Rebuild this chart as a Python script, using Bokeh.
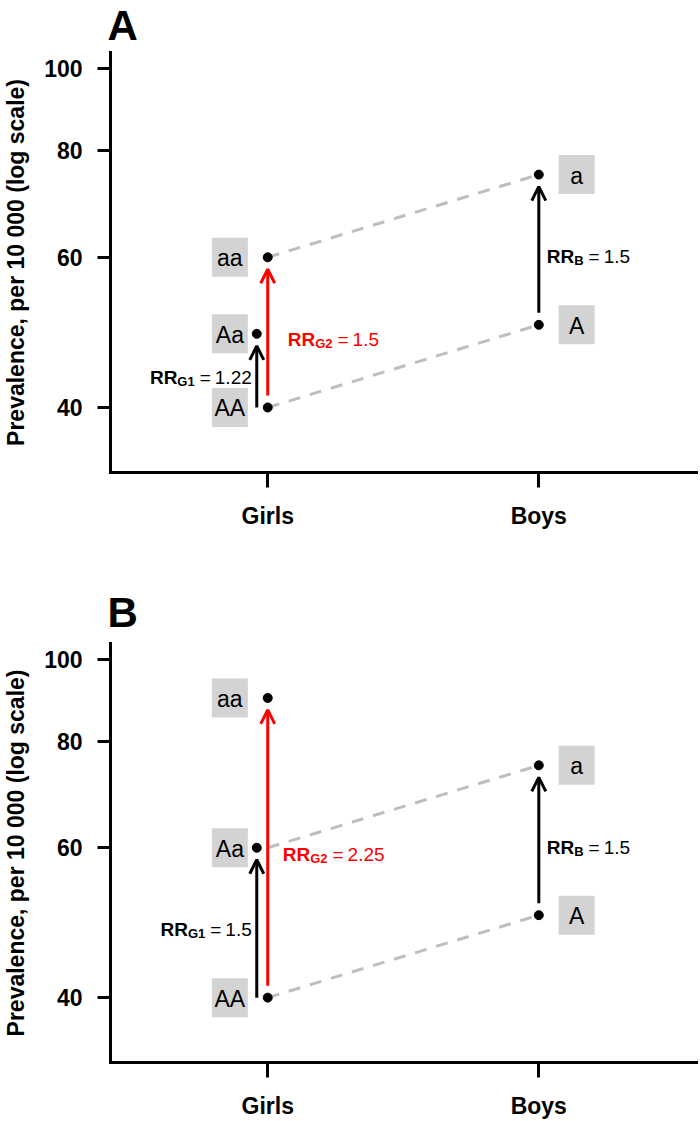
import math
from bokeh.plotting import figure
from bokeh.layouts import column
from bokeh.models import Range1d, FixedTicker, PrintfTickFormatter, Arrow, OpenHead
from bokeh.core.properties import value
from bokeh.embed import file_html
from bokeh.resources import INLINE

# ---------------- data ----------------
panels = ["A", "B"]
groups = ["Girls", "Boys"]
group_x = [1, 2]
girls_AA = [40, 40]
girls_Aa = [48.8, 60]
girls_aa = [60, 90]
boys_A = [50, 50]
boys_a = [75, 75]
rr_g1 = ["1.22", "1.5"]
rr_g2 = ["1.5", "2.25"]
rr_b = ["1.5", "1.5"]
upper_link = ["aa", "Aa"]          # girls genotype joined to boys "a" by dashed line
y_ticks = [40, 60, 80, 100]
y_label = "Prevalence, per 10 000 (log scale)"

# ---------------- layout / style ----------------
FONT_NAME = "Liberation Sans"
FONT = value(FONT_NAME)
W = 700
FIG_H = [560, 561]
TOP = [52, 83]
FRAME_H = 420
LEFT = 108
RIGHT = 4
X0, PXU = 0.42, 272.0
X1 = X0 + (W - LEFT - RIGHT) / PXU
Y0 = 10 ** (math.log10(35) - 0.04 * (2 - math.log10(35)))
Y1 = 10 ** (2 + 0.04 * (2 - math.log10(35)))
PPD = FRAME_H / (math.log10(Y1) - math.log10(Y0))
RED = "#ff0000"
DASH_COL = "#bebebe"
BOX_COL = "#d3d3d3"


def dx(px):
    return px / PXU


def fy(px):
    return 10 ** (px / PPD)


W_REG = {".": .278, "=": .584, " ": .278}
W_BOLD = {"R": .722, "G": .778, "B": .722}


def tw(s, table, size):
    return sum(table.get(c, .556) for c in s) * size


def rr_label(p, x, y, sub, val, color, anchor_off, align):
    main, subsz, gap = 19, 13, 4
    pieces = [
        ("RR", "bold", main, 0, tw("RR", W_BOLD, main)),
        (sub, "bold", subsz, 4, tw(sub, W_BOLD, subsz)),
        (None, None, None, None, gap + 1),
        ("=", "normal", main, 0, tw("=", W_REG, main)),
        (None, None, None, None, gap),
        (val, "normal", main, 0, tw(val, W_REG, main)),
    ]
    total = sum(pc[4] for pc in pieces)
    cur = anchor_off - total if align == "right" else anchor_off
    for txt, style, size, dy, w in pieces:
        if txt is not None:
            p.text(x=[x], y=[y], text=[txt], x_offset=cur, y_offset=7 + dy,
                   text_align="left", text_baseline="alphabetic",
                   text_font=FONT, text_font_style=style,
                   text_font_size=f"{size}px", text_color=color)
        cur += w


figs = []
for i, name in enumerate(panels):
    h = FIG_H[i]
    p = figure(width=W, height=h, x_range=Range1d(X0, X1), y_range=Range1d(Y0, Y1),
               y_axis_type="log", output_backend="svg", toolbar_location=None,
               min_border_left=LEFT, min_border_right=RIGHT, min_border_top=TOP[i],
               min_border_bottom=h - TOP[i] - FRAME_H, title=name)
    p.outline_line_color = None
    p.xgrid.visible = False
    p.ygrid.visible = False
    p.background_fill_color = "white"
    p.border_fill_color = "white"

    # panel letter
    p.title.text_font = FONT_NAME
    p.title.text_font_style = "bold"
    p.title.text_font_size = "42px"
    p.title.text_color = "black"
    p.title.align = "left"
    p.title.offset = -3
    if i == 0:
        p.title.vertical_align = "top"
        p.title.standoff = 3
    else:
        p.title.standoff = 15

    # axes
    p.yaxis.ticker = FixedTicker(ticks=y_ticks)
    p.yaxis.formatter = PrintfTickFormatter(format="%d")
    p.xaxis.ticker = FixedTicker(ticks=group_x)
    p.xaxis.major_label_overrides = {gx: g for gx, g in zip(group_x, groups)}
    for ax in (p.xaxis, p.yaxis):
        ax.axis_line_width = 3
        ax.axis_line_cap = "square"
        ax.major_tick_line_width = 3
        ax.major_tick_in = 0
        ax.minor_tick_line_color = None
        ax.minor_tick_out = 0
        ax.major_label_text_font = FONT_NAME
        ax.major_label_text_font_style = "bold"
        ax.major_label_text_font_size = "23px"
        ax.major_label_text_color = "black"
    p.yaxis.major_tick_out = 13
    p.yaxis.major_label_standoff = 15
    p.xaxis.major_tick_out = 15
    p.xaxis.major_label_standoff = 15
    p.yaxis.axis_label = y_label
    p.yaxis.axis_label_text_font = FONT_NAME
    p.yaxis.axis_label_text_font_style = "bold"
    p.yaxis.axis_label_text_font_size = "23px"
    p.yaxis.axis_label_text_color = "black"
    p.yaxis.axis_label_standoff = 12

    xg, xb = group_x
    x_Aa = xg - dx(11)
    up = girls_aa[i] if upper_link[i] == "aa" else girls_Aa[i]

    # dashed links
    p.line([xg, xb], [girls_AA[i], boys_A[i]], line_dash="12 10", line_color=DASH_COL, line_width=3)
    p.line([xg, xb], [up, boys_a[i]], line_dash="12 10", line_color=DASH_COL, line_width=3)

    # arrows
    def arrow(x, y0, y1, col):
        p.add_layout(Arrow(end=OpenHead(size=14, line_width=3, line_color=col),
                           x_start=x, y_start=y0, x_end=x, y_end=y1,
                           line_width=3, line_color=col))
    arrow(x_Aa, girls_AA[i], girls_Aa[i] / fy(12), "black")
    arrow(xg, girls_AA[i] * fy(12), girls_aa[i] / fy(12), RED)
    arrow(xb, boys_A[i] * fy(12), boys_a[i] / fy(12), "black")

    # points
    p.scatter([xg, x_Aa, xg, xb, xb],
              [girls_AA[i], girls_Aa[i], girls_aa[i], boys_A[i], boys_a[i]],
              size=9, color="black")

    # genotype boxes
    bx = [xg - dx(38)] * 3 + [xb + dx(38)] * 2
    by = [girls_AA[i], girls_Aa[i], girls_aa[i], boys_A[i], boys_a[i]]
    bt = ["AA", "Aa", "aa", "A", "a"]
    p.rect(x=bx, y=by, width=36, height=39, width_units="screen", height_units="screen",
           fill_color=BOX_COL, line_color=None)
    p.text(x=bx, y=by, text=bt, text_align="center", text_baseline="middle",
           text_font=FONT, text_font_size="23px", text_color="black", y_offset=1)

    # RR labels
    rr_label(p, x_Aa, math.sqrt(girls_AA[i] * girls_Aa[i]), "G1", rr_g1[i], "black", -5, "right")
    rr_label(p, xg, math.sqrt(girls_AA[i] * girls_aa[i]), "G2", rr_g2[i], RED,
             20 if i == 0 else 15, "left")
    rr_label(p, xb, math.sqrt(boys_A[i] * boys_a[i]), "B", rr_b[i], "black", 8, "left")
    figs.append(p)

layout = column(*figs)
open("out.html", "w").write(file_html(layout, INLINE))
